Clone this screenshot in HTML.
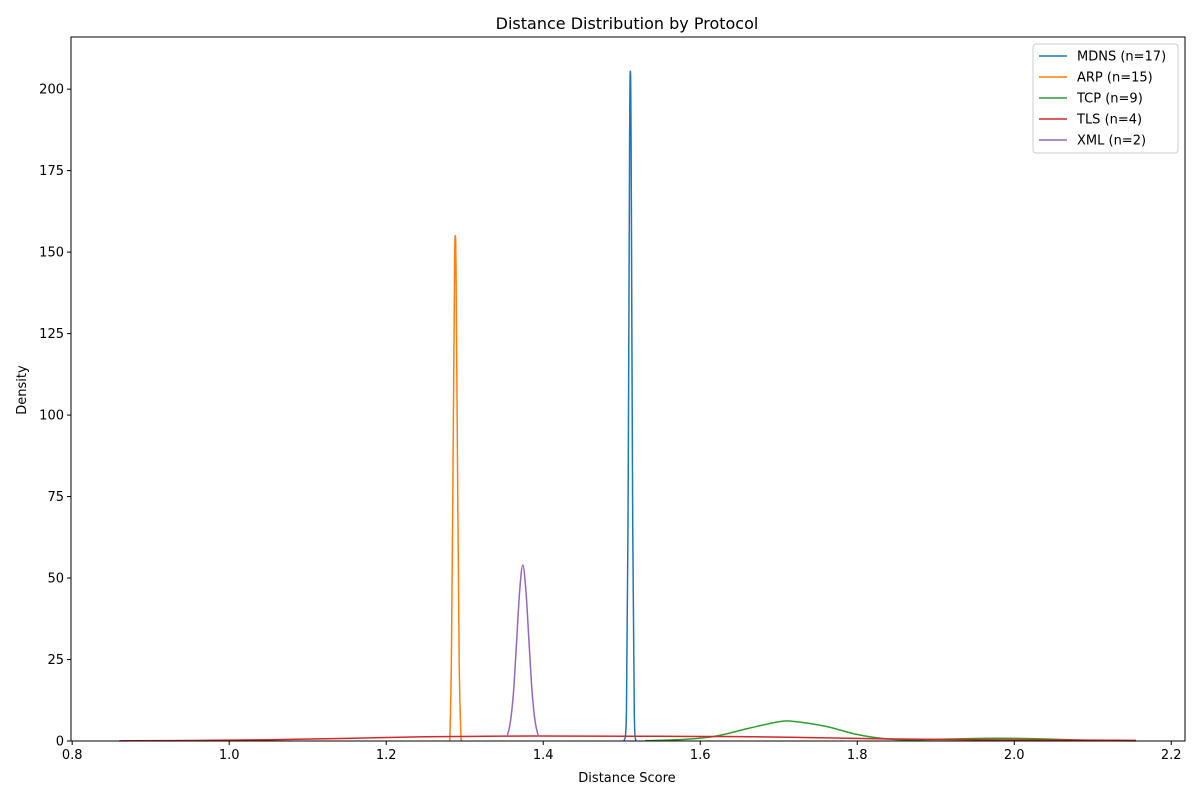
<!DOCTYPE html>
<html><head><meta charset="utf-8"><style>
body{margin:0;background:#fff;font-family:"Liberation Sans","DejaVu Sans",sans-serif}
svg text{font-family:"DejaVu Sans","Liberation Sans",sans-serif}
</style></head><body>
<svg id="chart" width="1200" height="800" xmlns="http://www.w3.org/2000/svg">
<rect width="1200" height="800" fill="#fff"/>
<text x="627" y="29" text-anchor="middle" font-size="16">Distance Distribution by Protocol</text>
<g id="plot"></g>
<rect x="71" y="37" width="1114" height="704" fill="none" stroke="#000" stroke-width="1"/>
<text x="627" y="782" text-anchor="middle" font-size="13">Distance Score</text>
<text x="0" y="0" transform="translate(26,390) rotate(-90)" text-anchor="middle" font-size="13">Density</text>
<g id="legend"></g>
</svg>
<script>
const seriesNames = ["MDNS (n=17)","ARP (n=15)","TCP (n=9)","TLS (n=4)","XML (n=2)"];
const seriesColors = ["#1f77b4","#ff7f0e","#2ca02c","#d62728","#9467bd"];
const mdnsX = [1.503,1.506,1.508,1.510,1.511,1.512,1.514,1.516,1.518];
const mdnsY = [0,9,66,181,205.5,181,66,9,0];
const arpX = [1.281,1.283,1.285,1.287,1.288,1.289,1.291,1.293,1.295,1.296];
const arpY = [0,24,80,143,155,143,80,24,3,0];
const tcpX = [1.53,1.58,1.62,1.66,1.70,1.72,1.76,1.80,1.84,1.88,1.92,1.96,2.00,2.04,2.08,2.12,2.155];
const tcpY = [0.1,0.5,1.5,3.8,5.9,6.0,4.5,2.0,0.6,0.4,0.6,0.8,0.8,0.6,0.3,0.1,0.05];
const tlsX = [0.86,0.95,1.05,1.15,1.25,1.35,1.45,1.55,1.65,1.75,1.85,1.95,2.05,2.155];
const tlsY = [0.05,0.15,0.4,0.8,1.3,1.5,1.5,1.45,1.35,1.0,0.6,0.4,0.3,0.2];
const xmlX = [1.354,1.358,1.362,1.366,1.370,1.374,1.378,1.382,1.386,1.390,1.394];
const xmlY = [1.4,5.5,14.5,30,46,54,46,30,14.5,5.5,1.4];
const xTicks = [0.8,1.0,1.2,1.4,1.6,1.8,2.0,2.2];
const xTickLabels = ["0.8","1.0","1.2","1.4","1.6","1.8","2.0","2.2"];
const yTicks = [0,25,50,75,100,125,150,175,200];
const yTickLabels = ["0","25","50","75","100","125","150","175","200"];

const L=71,R=1185,T=37,B=741;
const xMin=0.7985,xMax=2.2175,yMin=0,yMax=216;
const sx=v=>L+(v-xMin)/(xMax-xMin)*(R-L);
const sy=v=>B-(v-yMin)/(yMax-yMin)*(B-T);
const NS="http://www.w3.org/2000/svg";
const plot=document.getElementById('plot');
function mk(tag,attrs,parent){const e=document.createElementNS(NS,tag);for(const k in attrs)e.setAttribute(k,attrs[k]);parent.appendChild(e);return e;}
xTicks.forEach((t,i)=>{
  const l=mk('line',{x1:sx(t),x2:sx(t),y1:B,y2:B+4,stroke:'#000'},plot);
  
  
  const tx=mk('text',{x:sx(t),y:B+18,'text-anchor':'middle','font-size':13},plot);
  tx.textContent=xTickLabels[i];
  
  
});
yTicks.forEach((t,i)=>{
  const l=mk('line',{x1:L-4,x2:L,y1:sy(t),y2:sy(t),stroke:'#000'},plot);
  
  
  const tx=mk('text',{x:L-7,y:sy(t)+4.5,'text-anchor':'end','font-size':13},plot);
  tx.textContent=yTickLabels[i];
  
  
});
function pathD(xs,ys){
  const p=xs.map((x,i)=>[sx(x),sy(ys[i])]);
  let d=`M${p[0][0]},${p[0][1]}`;
  for(let i=0;i<p.length-1;i++){
    const p0=p[i-1]||p[i],p1=p[i],p2=p[i+1],p3=p[i+2]||p2;
    const c1=[p1[0]+(p2[0]-p0[0])/6,p1[1]+(p2[1]-p0[1])/6];
    const c2=[p2[0]-(p3[0]-p1[0])/6,p2[1]-(p3[1]-p1[1])/6];
    d+=` C${c1[0]},${c1[1]} ${c2[0]},${c2[1]} ${p2[0]},${p2[1]}`;
  }
  return d;
}
const seriesData=[[mdnsX,mdnsY],[arpX,arpY],[tcpX,tcpY],[tlsX,tlsY],[xmlX,xmlY]];
const seriesKeys=["mdns","arp","tcp","tls","xml"];
seriesData.forEach((s,i)=>{
  const p=mk('path',{d:pathD(s[0],s[1]),fill:'none',stroke:seriesColors[i],'stroke-width':1.5},plot);
  
  
});
const lg=document.getElementById('legend');
const box=mk('rect',{x:1033,y:44,width:145,height:109,rx:3,fill:'#fff','fill-opacity':0.8,stroke:'#ccc'},lg);


seriesNames.forEach((n,i)=>{
  const y=56+i*21;
  const l=mk('line',{x1:1039,x2:1067,y1:y,y2:y,stroke:seriesColors[i],'stroke-width':1.5},lg);
  
  
  const t=mk('text',{x:1077,y:y+4.5,'font-size':13},lg);
  t.textContent=n;
  
  
});
</script>
</body></html>
